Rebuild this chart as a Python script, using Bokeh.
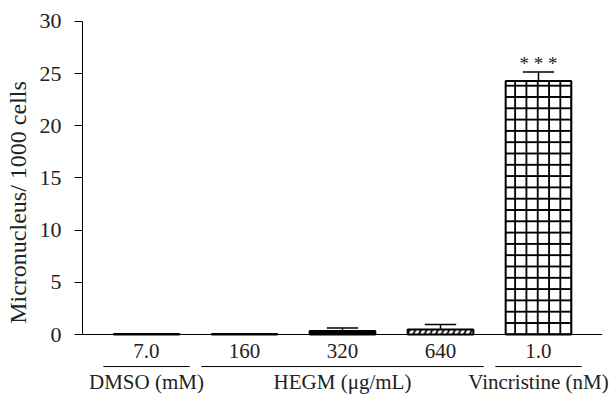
from bokeh.plotting import figure
from bokeh.models import ColumnDataSource, Range1d, FixedTicker
from bokeh.core.properties import value
from bokeh.embed import file_html
from bokeh.resources import INLINE

# ---- data ----
dose_labels = ["7.0", "160", "320", "640", "1.0"]
means = [0.05, 0.05, 0.33, 0.48, 24.3]
errors = [0.0, 0.0, 0.29, 0.47, 0.85]
groups = ["DMSO (mM)", "HEGM (\u03bcg/mL)", "Vincristine (nM)"]
group_members = [[0], [1, 2, 3], [4]]
fills = ["black", "black", "black", "white", "white"]
hatches = [" ", " ", " ", "/", "+"]
signif = ["", "", "", "", "* * *"]
y_ticks = [0, 5, 10, 15, 20, 25, 30]

FONT = "Liberation Serif"
TXT = "#222222"
xs = list(range(len(means)))

p = figure(width=616, height=394, output_backend="svg", toolbar_location=None,
           x_range=Range1d(-0.653, 4.796), y_range=Range1d(-5.75, 31.05),
           min_border_left=82, min_border_right=0, min_border_top=10, min_border_bottom=0)
p.xaxis.visible = False
p.xgrid.visible = False
p.ygrid.visible = False
p.outline_line_color = None
p.background_fill_color = "white"
p.border_fill_color = "white"

ya = p.yaxis[0]
ya.bounds = (0, 30)
ya.ticker = FixedTicker(ticks=y_ticks)
ya.minor_tick_line_color = None
ya.major_tick_in = 0
ya.major_tick_out = 8
ya.axis_line_color = "black"
ya.major_tick_line_color = "black"
ya.major_label_text_font = FONT
ya.major_label_text_font_size = "22px"
ya.major_label_text_color = TXT
ya.major_label_standoff = 13
ya.axis_label = "Micronucleus/ 1000 cells"
ya.axis_label_text_font = FONT
ya.axis_label_text_font_size = "24px"
ya.axis_label_text_font_style = "normal"
ya.axis_label_text_color = TXT
ya.axis_label_standoff = 6

src = ColumnDataSource(dict(x=xs, top=means, fill=fills, hatch=hatches,
                            err_top=[m + e for m, e in zip(means, errors)],
                            lab=dose_labels, sig=signif,
                            sig_y=[m + e - 0.15 for m, e in zip(means, errors)]))

# error bars (upper only)
p.segment(x0="x", y0="top", x1="x", y1="err_top", source=src, line_color="black", line_width=1.5)
p.segment(x0=[x - 0.16 for x in xs], y0=src.data["err_top"], x1=[x + 0.16 for x in xs],
          y1=src.data["err_top"], line_color="black", line_width=1.5)

p.vbar(x="x", top="top", bottom=0, width=0.67, source=src, fill_color="fill",
       line_color="black", line_width=2, hatch_pattern="hatch", hatch_color="black",
       hatch_scale=11.3, hatch_weight=1.8)

# x axis baseline
p.segment(x0=[-0.653], y0=[0], x1=[4.65], y1=[0], line_color="black", line_width=1)

# category labels
p.text(x="x", y=-1.55, text="lab", source=src, text_font=value(FONT), text_font_size="21px",
       text_align="center", text_baseline="middle", text_color=TXT)

# significance
p.text(x="x", y="sig_y", text="sig", source=src, text_font=value(FONT), text_font_size="19px",
       text_align="center", text_baseline="bottom", text_color=TXT)

# group underlines and labels
gx0 = [min(m) - 0.44 for m in group_members]
gx1 = [max(m) + 0.44 for m in group_members]
gxc = [(min(m) + max(m)) / 2 for m in group_members]
p.segment(x0=gx0, y0=[-3.07] * 3, x1=gx1, y1=[-3.07] * 3, line_color="black", line_width=1)
p.text(x=gxc, y=[-5.72] * 3, text=groups, text_font=value(FONT), text_font_size="21px",
       text_align="center", text_baseline="bottom", text_color=TXT)

open("out.html", "w").write(file_html(p, INLINE))
